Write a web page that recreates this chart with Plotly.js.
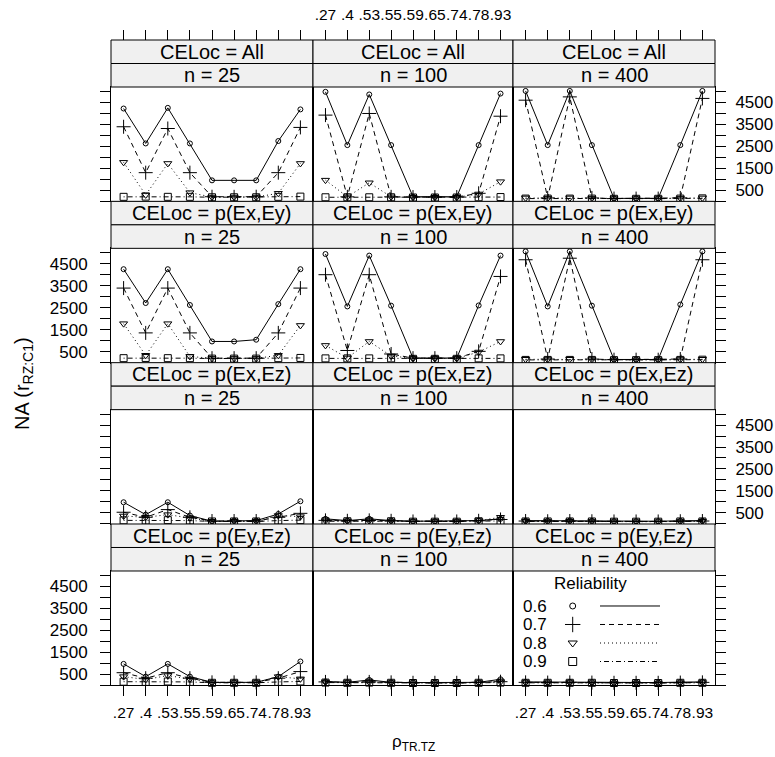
<!DOCTYPE html>
<html><head><meta charset="utf-8">
<script src="https://cdn.plot.ly/plotly-3.0.1.min.js"></script>
<style>html,body{margin:0;padding:0;background:#fff;} #chart{width:775px;height:757px;}</style>
</head><body><div id="chart"></div>
<script>
// ---------------- data ----------------
const xLabels = [".27", ".4", ".53", ".55", ".59", ".65", ".74", ".78", ".93"];
const reliability = ["0.6", "0.7", "0.8", "0.9"];
const celocLevels = ["All", "p(Ex,Ey)", "p(Ex,Ez)", "p(Ey,Ez)"];
const nLevels = ["25", "100", "400"];
const yTickVals = [0, 500, 1000, 1500, 2000, 2500, 3000, 3500, 4000, 4500, 5000];
const yTickText = ["", "500", "", "1500", "", "2500", "", "3500", "", "4500", ""];

// each panel: [rel 0.6, rel 0.7, rel 0.8, rel 0.9]
const All_25 = [
  [4220, 2630, 4250, 2630, 950, 950, 950, 2740, 4180],
  [3390, 1300, 3310, 1300, 205, 200, 205, 1300, 3360],
  [1770, 290, 1720, 390, 190, 190, 190, 360, 1720],
  [200, 210, 200, 200, 180, 180, 180, 200, 210]
];
const All_100 = [
  [4980, 2555, 4860, 2555, 205, 205, 205, 2555, 4900],
  [3920, 200, 3995, 200, 190, 190, 190, 360, 3870],
  [960, 200, 840, 200, 180, 180, 180, 330, 890],
  [180, 180, 180, 180, 170, 170, 170, 180, 190]
];
const All_400 = [
  [5020, 2555, 5020, 2555, 130, 130, 130, 2555, 5020],
  [4600, 150, 4750, 150, 120, 120, 120, 150, 4680],
  [150, 140, 150, 140, 120, 120, 120, 140, 150],
  [120, 120, 120, 120, 110, 110, 110, 120, 130]
];
const ExEy_25 = [
  [4250, 2710, 4250, 2620, 960, 960, 1040, 2660, 4250],
  [3390, 1350, 3390, 1350, 200, 200, 200, 1350, 3390],
  [1770, 330, 1770, 280, 190, 190, 190, 330, 1690],
  [200, 210, 200, 200, 180, 180, 180, 200, 210]
];
const ExEy_100 = [
  [4940, 2555, 4870, 2590, 205, 205, 205, 2600, 4870],
  [4000, 550, 4000, 390, 200, 200, 200, 510, 3920],
  [780, 210, 960, 300, 190, 190, 190, 480, 960],
  [190, 190, 190, 190, 170, 170, 170, 190, 190]
];
const ExEy_400 = [
  [5060, 2555, 5060, 2590, 140, 140, 140, 2640, 5060],
  [4680, 160, 4750, 160, 130, 130, 130, 160, 4680],
  [150, 140, 150, 140, 120, 120, 120, 140, 150],
  [120, 120, 120, 120, 110, 110, 110, 120, 130]
];
const ExEz_25 = [
  [985, 420, 985, 380, 120, 150, 150, 450, 1030],
  [530, 300, 650, 300, 130, 130, 130, 300, 480],
  [360, 300, 420, 280, 120, 120, 120, 380, 330],
  [160, 150, 170, 150, 110, 110, 110, 150, 170]
];
const ExEz_100 = [
  [230, 150, 230, 150, 120, 120, 120, 150, 230],
  [160, 140, 160, 140, 110, 110, 110, 140, 200],
  [140, 130, 140, 130, 110, 110, 110, 150, 300],
  [120, 120, 120, 120, 100, 100, 100, 120, 130]
];
const ExEz_400 = [
  [150, 140, 150, 140, 120, 120, 120, 140, 150],
  [130, 120, 130, 120, 110, 110, 110, 120, 130],
  [120, 110, 120, 110, 100, 100, 100, 110, 120],
  [110, 110, 110, 110, 100, 100, 100, 110, 110]
];
const EyEz_25 = [
  [970, 390, 970, 390, 130, 130, 130, 390, 1080],
  [570, 320, 570, 320, 130, 130, 130, 320, 620],
  [390, 260, 440, 280, 120, 120, 120, 390, 290],
  [160, 150, 170, 150, 110, 110, 110, 150, 170]
];
const EyEz_100 = [
  [170, 130, 240, 130, 120, 120, 120, 130, 270],
  [150, 130, 150, 130, 110, 110, 110, 130, 160],
  [140, 120, 140, 120, 110, 110, 110, 120, 150],
  [120, 110, 120, 110, 100, 100, 100, 110, 120]
];
const EyEz_400 = [
  [150, 140, 150, 140, 120, 120, 120, 140, 150],
  [130, 120, 130, 120, 110, 110, 110, 120, 130],
  [120, 110, 120, 110, 100, 100, 100, 110, 120],
  [110, 110, 110, 110, 100, 100, 100, 110, 110]
];
const panelData = [
  [All_25, All_100, All_400],
  [ExEy_25, ExEy_100, ExEy_400],
  [ExEz_25, ExEz_100, ExEz_400],
  [EyEz_25, EyEz_100, EyEz_400]
];

// ---------------- styling / geometry ----------------
const FONT = "Liberation Sans, Arial, sans-serif";
const W = 775, H = 757;
const symbols = ["circle-open", "cross-thin-open", "triangle-down-open", "square-open"];
const sizes = [5, 10, 7, 7];
const dashes = ["solid", "5px,4px", "1px,3px", "1px,3px,5px,3px"];
const colX = [[111, 313], [313, 513], [513, 715]];
const top0 = 40, pitch = 161.33, stripH = 23.5;
const xRange = [0.43, 9.57];
const yRange = [-5, 5200];
const xIdx = xLabels.map((_, i) => i + 1);
const fx = px => px / W;
const fy = py => 1 - py / H;
const xTickFont = {size: 15.5, family: FONT, color: "#000"};
const yTickFont = {size: 17, family: FONT, color: "#000"};

const traces = [];
const layout = {
  width: W, height: H,
  margin: {l: 0, r: 0, t: 0, b: 0},
  paper_bgcolor: "#fff", plot_bgcolor: "rgba(0,0,0,0)",
  showlegend: false,
  font: {family: FONT, color: "#000"},
  shapes: [], annotations: []
};

for (let r = 0; r < 4; r++) {
  const top = top0 + r * pitch;
  const pTop = top + 2 * stripH, pBot = top + pitch;
  for (let c = 0; c < 3; c++) {
    const k = r * 3 + c + 1;
    const sfx = k === 1 ? "" : String(k);
    const [x0, x1] = colX[c];
    layout["xaxis" + sfx] = {
      domain: [fx(x0), fx(x1)], range: xRange, anchor: "y" + sfx,
      showline: true, mirror: true, linecolor: "#000", linewidth: 1,
      showgrid: false, zeroline: false, tickmode: "array", tickvals: xIdx, ticktext: xLabels,
      ticks: r === 3 ? "outside" : "", ticklen: 10, tickcolor: "#000", tickwidth: 1,
      showticklabels: r === 3 && c !== 1, ticklabelstandoff: 3, tickangle: 0,
      tickfont: xTickFont, fixedrange: true
    };
    const showY = (c === 0 && (r === 1 || r === 3)) || (c === 2 && (r === 0 || r === 2));
    layout["yaxis" + sfx] = {
      domain: [fy(pBot), fy(pTop)], range: yRange, anchor: "x" + sfx,
      side: c === 2 ? "right" : "left",
      showline: true, mirror: true, linecolor: "#000", linewidth: 1,
      showgrid: false, zeroline: false, tickmode: "array", tickvals: yTickVals, ticktext: yTickText,
      ticks: (c === 0 || c === 2) ? "outside" : "", ticklen: 10, tickcolor: "#000", tickwidth: 1,
      showticklabels: showY, ticklabelstandoff: c === 2 ? 6 : 9,
      tickfont: yTickFont, fixedrange: true
    };
    // strips
    const labels = ["CELoc = " + celocLevels[r], "n = " + nLevels[c]];
    for (let s = 0; s < 2; s++) {
      const sy0 = top + s * stripH, sy1 = sy0 + stripH;
      layout.shapes.push({type: "rect", xref: "paper", yref: "paper",
        x0: fx(x0), x1: fx(x1), y0: fy(sy1), y1: fy(sy0),
        fillcolor: "#f0f0f0", line: {color: "#000", width: 1}});
      layout.annotations.push({xref: "paper", yref: "paper", x: fx((x0 + x1) / 2), y: fy((sy0 + sy1) / 2),
        text: labels[s], showarrow: false, xanchor: "center", yanchor: "middle",
        font: {size: 20, family: FONT, color: "#000"}});
    }
    // data traces
    const pd = panelData[r][c];
    for (let g = 0; g < 4; g++) {
      traces.push({
        type: "scatter", mode: "lines+markers", x: xIdx, y: pd[g],
        xaxis: "x" + sfx, yaxis: "y" + sfx, name: reliability[g],
        line: {color: "#000", width: 1, dash: dashes[g]},
        marker: {symbol: symbols[g], size: sizes[g], color: "#000", line: {color: "#000", width: 1}},
        hoverinfo: "skip", cliponaxis: false
      });
    }
  }
}

// top tick axes (above the strips of the first row)
for (let c = 0; c < 3; c++) {
  const k = 13 + c;
  const base = c === 0 ? "" : String(c + 1);
  layout["xaxis" + k] = {
    overlaying: "x" + base, anchor: "free", position: fy(top0), side: "top",
    domain: [fx(colX[c][0]), fx(colX[c][1])], range: xRange,
    tickmode: "array", tickvals: xIdx, ticktext: xLabels,
    ticks: "outside", ticklen: 10, tickcolor: "#000", tickwidth: 1,
    showline: false, showgrid: false, zeroline: false,
    showticklabels: c === 1, ticklabelstandoff: 4, tickangle: 0,
    tickfont: xTickFont, fixedrange: true
  };
  traces.push({type: "scatter", mode: "markers", x: [null], y: [null],
    xaxis: "x" + k, yaxis: "y" + base, hoverinfo: "skip", showlegend: false});
}

// key inside the last panel
layout.xaxis16 = {overlaying: "x12", range: [0, 1], visible: false, fixedrange: true};
layout.yaxis16 = {overlaying: "y12", range: [0, 1], visible: false, fixedrange: true};
const keyL = 513, keyW = 202, keyB = 685.3, keyH = 114.3;
const kx = px => (px - keyL) / keyW;
const ky = py => (keyB - py) / keyH;
const keyRows = [606, 624.5, 643, 661.5];
const keyFont = {size: 17, family: FONT, color: "#000"};
layout.annotations.push({xref: "paper", yref: "paper", x: fx(590), y: fy(583), text: "Reliability",
  showarrow: false, xanchor: "center", yanchor: "middle", font: keyFont});
for (let g = 0; g < 4; g++) {
  layout.annotations.push({xref: "paper", yref: "paper", x: fx(535), y: fy(keyRows[g]), text: reliability[g],
    showarrow: false, xanchor: "center", yanchor: "middle", font: keyFont});
  traces.push({type: "scatter", mode: "markers", x: [kx(572.7)], y: [ky(keyRows[g])],
    xaxis: "x16", yaxis: "y16", hoverinfo: "skip", showlegend: false,
    marker: {symbol: symbols[g], size: sizes[g] + 1, color: "#000", line: {color: "#000", width: 1}}});
  traces.push({type: "scatter", mode: "lines", x: [kx(600), kx(660)], y: [ky(keyRows[g]), ky(keyRows[g])],
    xaxis: "x16", yaxis: "y16", hoverinfo: "skip", showlegend: false,
    line: {color: "#000", width: 1, dash: dashes[g]}});
}

// axis titles
layout.annotations.push({xref: "paper", yref: "paper", x: fx(413), y: fy(743),
  text: "\u03c1<sub>TR.TZ</sub>", showarrow: false, xanchor: "center", yanchor: "middle",
  font: {size: 17, family: FONT, color: "#000"}});
layout.annotations.push({xref: "paper", yref: "paper", x: fx(23), y: fy(384),
  text: "NA (r<sub>RZ:C1</sub>)", showarrow: false, textangle: -90, xanchor: "center", yanchor: "middle",
  font: {size: 20, family: FONT, color: "#000"}});

Plotly.newPlot("chart", traces, layout, {staticPlot: true, displayModeBar: false});
</script></body></html>
